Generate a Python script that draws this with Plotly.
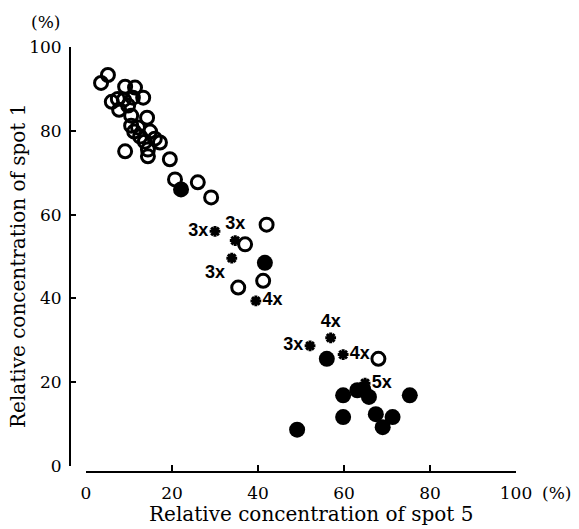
import plotly.graph_objects as go

# ---- data ----
open_x = [3.5, 5.1, 6.0, 7.4, 8.8, 9.1, 11.4, 13.3, 10.9, 9.8, 7.7, 10.5, 10.5, 12.1,
          14.2, 14.9, 16.0, 17.2, 13.7, 14.4, 9.1, 14.4, 12.6, 11.2, 19.5, 20.7, 26.0,
          29.1, 42.0, 37.0, 35.4, 41.2, 68.0]
open_y = [91.4, 93.3, 86.9, 87.6, 87.4, 90.5, 90.3, 87.9, 87.9, 86.0, 85.0, 83.6, 81.2, 80.8,
          83.1, 79.8, 78.1, 77.2, 77.4, 75.5, 75.1, 73.9, 78.6, 79.8, 73.2, 68.4, 67.7,
          64.1, 57.6, 52.9, 42.6, 44.2, 25.6]

filled_x = [22.1, 41.6, 56.0, 59.8, 63.1, 64.5, 65.8, 75.3, 59.8, 67.4, 71.3, 69.0, 49.1]
filled_y = [66.0, 48.5, 25.6, 16.9, 18.1, 18.3, 16.5, 16.9, 11.7, 12.4, 11.7, 9.3, 8.7]

star_x = [30.0, 34.7, 33.9, 39.5, 52.1, 56.9, 59.8, 64.9]
star_y = [56.0, 53.8, 49.6, 39.4, 28.7, 30.6, 26.6, 19.8]
star_labels = ["3x", "3x", "3x", "4x", "3x", "4x", "4x", "5x"]

x_ticks = [0, 20, 40, 60, 80, 100]
y_ticks = [0, 20, 40, 60, 80, 100]

x_title = "Relative concentration of spot 5"
y_title = "Relative concentration of spot 1"
unit = "(%)"

# ---- layout geometry ----
W, H = 579, 529
ml, mr, mt, mb = 50, 40, 20, 30
pw, ph = W - ml - mr, H - mt - mb


def fx(p):
    return (p - ml) / pw


def fy(p):
    return (H - mb - p) / ph


star_pos = ["middle left", "top center", "bottom left", "middle right",
            "middle left", "top center", "middle right", "middle right"]

fig = go.Figure()
fig.add_trace(go.Scatter(
    x=open_x, y=open_y, mode="markers",
    marker=dict(symbol="circle-open", size=13, color="black", line=dict(width=3)),
    showlegend=False, cliponaxis=False, hoverinfo="skip"))
fig.add_trace(go.Scatter(
    x=filled_x, y=filled_y, mode="markers",
    marker=dict(symbol="circle", size=16, color="black", line=dict(width=0)),
    showlegend=False, cliponaxis=False, hoverinfo="skip"))
fig.add_trace(go.Scatter(
    x=star_x, y=star_y, mode="markers+text", text=star_labels,
    textposition=star_pos,
    textfont=dict(family="Liberation Sans", size=18, color="black", weight="bold"),
    marker=dict(symbol="asterisk", size=9, color="black", line=dict(width=3, color="black")),
    showlegend=False, cliponaxis=False, hoverinfo="skip"))

serif = "DejaVu Serif"
fig.update_layout(
    width=W, height=H,
    margin=dict(l=ml, r=mr, t=mt, b=mb),
    paper_bgcolor="white", plot_bgcolor="white",
    font=dict(family=serif, size=17, color="black"),
    xaxis=dict(
        range=[0, 100], domain=[fx(86), fx(516)], anchor="free", position=fy(472),
        showgrid=False, zeroline=False, showline=True, linecolor="black", linewidth=2,
        ticks="inside", ticklen=6, tickwidth=2, tickcolor="black",
        tickvals=x_ticks, ticktext=[str(v) for v in x_ticks],
        tickfont=dict(family=serif, size=17), ticklabelstandoff=5,
    ),
    yaxis=dict(
        range=[0, 100], domain=[fy(466), fy(45)], anchor="free", position=fx(70),
        showgrid=False, zeroline=False, showline=True, linecolor="black", linewidth=2,
        ticks="inside", ticklen=5, tickwidth=2, tickcolor="black",
        tickvals=y_ticks, ticktext=[str(v) for v in y_ticks],
        tickfont=dict(family=serif, size=17), ticklabelstandoff=4,
    ),
    annotations=[
        dict(text=x_title, xref="paper", yref="paper", x=fx(311), y=fy(514),
             showarrow=False, font=dict(family=serif, size=20), xanchor="center", yanchor="middle"),
        dict(text=y_title, xref="paper", yref="paper", x=fx(18), y=fy(265),
             showarrow=False, font=dict(family=serif, size=20), textangle=-90,
             xanchor="center", yanchor="middle"),
        dict(text=unit, xref="paper", yref="paper", x=fx(540), y=fy(493),
             showarrow=False, font=dict(family=serif, size=17), xanchor="left", yanchor="middle"),
        dict(text=unit, xref="paper", yref="paper", x=fx(45), y=fy(20),
             showarrow=False, font=dict(family=serif, size=17), xanchor="center", yanchor="middle"),
    ],
)

fig.write_html("out.html", config={"displayModeBar": False},
               post_script="document.body.style.margin='0';")
